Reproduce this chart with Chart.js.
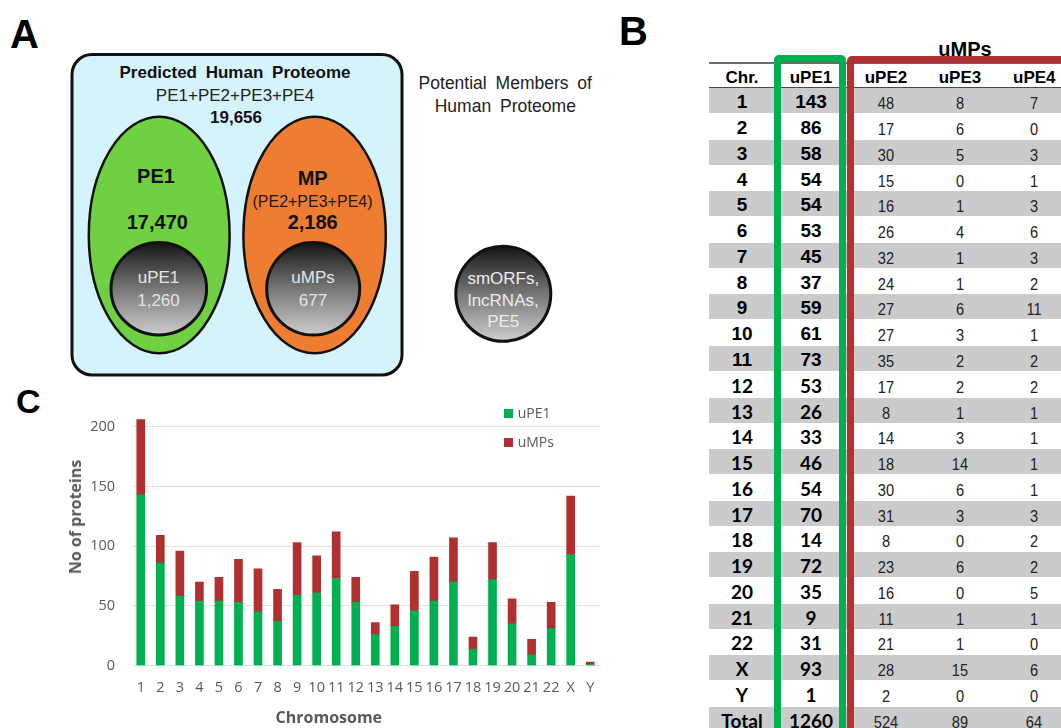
<!DOCTYPE html>
<html>
<head>
<meta charset="utf-8">
<script src="https://cdn.jsdelivr.net/npm/chart.js@4.4.0/dist/chart.umd.min.js"></script>
<style>
html,body{margin:0;padding:0;background:#fff;}
body{width:1061px;height:728px;position:relative;overflow:hidden;font-family:"Liberation Sans",Arial,sans-serif;}
#panelA{position:absolute;left:0;top:0;}
#chartWrap{position:absolute;left:0;top:380px;width:620px;height:348px;}
.abs{position:absolute;white-space:nowrap;}
.lbl{font-weight:bold;font-size:40px;color:#000;line-height:1;}
.ctitle{font-family:"Open Sans",sans-serif;font-weight:bold;font-size:16px;color:#595959;line-height:1;transform:translate(-50%,-50%);}
.leg{font-family:"Open Sans",sans-serif;font-size:14px;color:#595959;line-height:1;}
.sq{width:9px;height:9px;}
.band{position:absolute;left:709px;width:360px;}
.cell{position:absolute;width:80px;text-align:center;white-space:nowrap;}
.hb{font-weight:bold;font-size:17px;color:#000;}
.vb{font-weight:bold;font-size:19px;color:#000;}
.vl{font-family:Lato,sans-serif;font-weight:bold;font-size:19px;color:#000;}
.vr{font-family:"Liberation Sans",Arial,sans-serif;font-size:17px;color:#222;transform:scaleX(0.86);}
</style>
</head>
<body>
<script>
// ---- data ----
const chromosomes = ['1','2','3','4','5','6','7','8','9','10','11','12','13','14','15','16','17','18','19','20','21','22','X','Y'];
const uPE1 = [143,86,58,54,54,53,45,37,59,61,73,53,26,33,46,54,70,14,72,35,9,31,93,1];
const uPE2 = [48,17,30,15,16,26,32,24,27,27,35,17,8,14,18,30,31,8,23,16,11,21,28,2];
const uPE3 = [8,6,5,0,1,4,1,1,6,3,2,2,1,3,14,6,3,0,6,0,1,1,15,0];
const uPE4 = [7,0,3,1,3,6,3,2,11,1,2,2,1,1,1,1,3,2,2,5,1,0,6,0];
const uMPs = [63,23,38,16,20,36,36,27,44,31,39,21,10,18,33,37,37,10,31,21,13,22,49,2];
const totalRow = ['Total','1260','524','89','64'];
const tableHeaders = ['Chr.','uPE1','uPE2','uPE3','uPE4'];
const yTicks = [0,50,100,150,200];
const seriesNames = ['uPE1','uMPs'];
const seriesColors = ['#00b050','#b0302f'];
</script>

<svg id="panelA" width="700" height="380" xmlns="http://www.w3.org/2000/svg" font-family="Liberation Sans, Arial, sans-serif">
  <defs>
    <linearGradient id="gg" x1="0" y1="0" x2="0" y2="1">
      <stop offset="0" stop-color="#141414"/>
      <stop offset="0.5" stop-color="#777"/>
      <stop offset="1" stop-color="#cdcdcd"/>
    </linearGradient>
  </defs>
  <text x="10" y="47.7" font-size="40" font-weight="bold" fill="#000">A</text>
  <rect x="72" y="54.5" width="330" height="320.5" rx="20" ry="20" fill="#d5f3fd" stroke="#111" stroke-width="3"/>
  <text x="235" y="72.3" font-size="17" font-weight="bold" text-anchor="middle" dominant-baseline="central" word-spacing="4" fill="#111">Predicted Human Proteome</text>
  <text x="235" y="95.7" font-size="17" text-anchor="middle" dominant-baseline="central" fill="#222">PE1+PE2+PE3+PE4</text>
  <text x="236" y="117.3" font-size="17" font-weight="bold" text-anchor="middle" dominant-baseline="central" fill="#111">19,656</text>
  <ellipse cx="159.2" cy="235" rx="70.4" ry="118.3" fill="#6fd141" stroke="#111" stroke-width="2.5"/>
  <ellipse cx="314.6" cy="235" rx="71.2" ry="118.3" fill="#ee7d32" stroke="#111" stroke-width="2.5"/>
  <text x="156" y="175.7" font-size="20" font-weight="bold" text-anchor="middle" dominant-baseline="central" fill="#111">PE1</text>
  <text x="157.3" y="221.7" font-size="20" font-weight="bold" text-anchor="middle" dominant-baseline="central" fill="#111">17,470</text>
  <text x="312.7" y="178.3" font-size="20" font-weight="bold" text-anchor="middle" dominant-baseline="central" fill="#111">MP</text>
  <text x="312.5" y="201" font-size="16" text-anchor="middle" dominant-baseline="central" fill="#2a1405">(PE2+PE3+PE4)</text>
  <text x="312.7" y="221.7" font-size="20" font-weight="bold" text-anchor="middle" dominant-baseline="central" fill="#111">2,186</text>
  <ellipse cx="158.8" cy="288.7" rx="47.8" ry="46.3" fill="url(#gg)" stroke="#111" stroke-width="3"/>
  <ellipse cx="313.2" cy="288.7" rx="46.5" ry="46.3" fill="url(#gg)" stroke="#111" stroke-width="3"/>
  <text x="158.5" y="277.7" font-size="17" text-anchor="middle" dominant-baseline="central" fill="#e4e4e4">uPE1</text>
  <text x="158.5" y="300" font-size="17" text-anchor="middle" dominant-baseline="central" fill="#e4e4e4">1,260</text>
  <text x="313" y="277.7" font-size="17" text-anchor="middle" dominant-baseline="central" fill="#e4e4e4">uMPs</text>
  <text x="313" y="300" font-size="17" text-anchor="middle" dominant-baseline="central" fill="#e4e4e4">677</text>
  <text x="505.3" y="83.3" font-size="17.5" text-anchor="middle" dominant-baseline="central" word-spacing="4" fill="#222">Potential Members of</text>
  <text x="505.3" y="106" font-size="17.5" text-anchor="middle" dominant-baseline="central" word-spacing="4" fill="#222">Human Proteome</text>
  <circle cx="503.3" cy="293.8" r="47.5" fill="url(#gg)" stroke="#111" stroke-width="3"/>
  <text x="503.3" y="278.3" font-size="17" text-anchor="middle" dominant-baseline="central" fill="#ececec">smORFs,</text>
  <text x="503.3" y="300.7" font-size="17" text-anchor="middle" dominant-baseline="central" fill="#ececec">lncRNAs,</text>
  <text x="503.3" y="321.7" font-size="17" text-anchor="middle" dominant-baseline="central" fill="#ececec">PE5</text>
</svg>

<div class="abs lbl" style="left:619px;top:11px;">B</div>
<div class="abs lbl" style="left:16px;top:384px;font-size:34px;">C</div>

<div id="table"></div>

<div id="chartWrap"><canvas id="c" width="620" height="348"></canvas></div>
<div class="abs ctitle" style="left:74.7px;top:517px;transform:translate(-50%,-50%) rotate(-90deg);">No of proteins</div>
<div class="abs ctitle" style="left:328.8px;top:716.7px;">Chromosome</div>
<div id="legend"></div>

<script>
// ---- table (panel B) ----
(function(){
  const T = document.getElementById('table');
  const colX = [742, 811, 886, 960, 1034.3];
  const rowTop0 = 88.3, pitch = 25.77;
  function add(html){ T.insertAdjacentHTML('beforeend', html); }
  add('<div class="abs" style="left:709px;top:62px;width:360px;height:2px;background:#6a6a6a;"></div>');
  add('<div class="abs" style="left:709px;top:86.5px;width:360px;height:2px;background:#4a4a4a;"></div>');
  const rows = chromosomes.map((c,i)=>[c, String(uPE1[i]), String(uPE2[i]), String(uPE3[i]), String(uPE4[i])]);
  rows.push(totalRow);
  rows.forEach((r,i)=>{
    const top = rowTop0 + i*pitch;
    if(i%2===0) add('<div class="band" style="top:'+top+'px;height:'+(pitch-0.8)+'px;background:#cbcbcb;"></div>');
  });
  add('<div class="abs" style="left:774px;top:55px;width:72px;height:720px;box-sizing:border-box;border:7px solid #00b04f;border-radius:5px;"></div>');
  add('<div class="abs" style="left:846.5px;top:56px;width:320px;height:720px;box-sizing:border-box;border:7px solid #b03232;border-radius:5px;"></div>');
  add('<div class="cell hb" style="left:'+(965-60)+'px;width:120px;top:36px;height:26px;line-height:26px;font-size:20px;">uMPs</div>');
  tableHeaders.forEach((h,j)=>{
    add('<div class="cell hb" style="left:'+(colX[j]-40)+'px;top:64px;height:28px;line-height:28px;">'+h+'</div>');
  });
  rows.forEach((r,i)=>{
    const top = rowTop0 + i*pitch;
    const boldCls = i < 11 ? 'vb' : 'vl';
    r.forEach((v,j)=>{
      const cls = j < 2 ? boldCls : 'vr';
      const lh = j < 2 ? 28.8 : 31.4;
      add('<div class="cell '+cls+'" style="left:'+(colX[j]-40)+'px;top:'+top+'px;height:'+pitch+'px;line-height:'+lh+'px;">'+v+'</div>');
    });
  });
})();

// ---- legend (panel C) ----
(function(){
  const L = document.getElementById('legend');
  const ys = [413.3, 442];
  seriesNames.forEach((n,i)=>{
    L.insertAdjacentHTML('beforeend',
      '<div class="abs sq" style="left:504px;top:'+(ys[i]-4.5)+'px;background:'+seriesColors[i]+';"></div>'+
      '<div class="abs leg" style="left:517.7px;top:'+(ys[i]-8)+'px;height:16px;line-height:16px;">'+n+'</div>');
  });
})();

// ---- chart (panel C) ----
const ctx = document.getElementById('c').getContext('2d');
new Chart(ctx, {
  type: 'bar',
  data: {
    labels: chromosomes,
    datasets: [
      {label: seriesNames[0], data: uPE1, backgroundColor: seriesColors[0], barThickness: 8, borderWidth: 0},
      {label: seriesNames[1], data: uMPs, backgroundColor: seriesColors[1], barThickness: 8, borderWidth: 0}
    ]
  },
  options: {
    responsive: false,
    animation: false,
    devicePixelRatio: 1,
    layout: {padding: {left: 0, right: 20, top: 34.75, bottom: 0}},
    plugins: {legend: {display: false}, tooltip: {enabled: false}},
    scales: {
      x: {
        stacked: true,
        grid: {display: false, drawTicks: false},
        border: {display: false},
        ticks: {autoSkip: false, maxRotation: 0, minRotation: 0, padding: 13, color: '#595959',
                font: {family: 'Open Sans', size: 14.5}},
        afterFit(s){ s.height = 62.3; }
      },
      y: {
        stacked: true,
        min: 0,
        max: 210,
        grid: {color: '#e2e2e2', lineWidth: 1, drawTicks: false},
        border: {display: false},
        ticks: {padding: 16, color: '#595959', font: {family: 'Open Sans', size: 14.5}},
        afterBuildTicks(s){ s.ticks = yTicks.map(v => ({value: v})); },
        afterFit(s){ s.width = 131; }
      }
    }
  }
});
</script>
</body>
</html>
